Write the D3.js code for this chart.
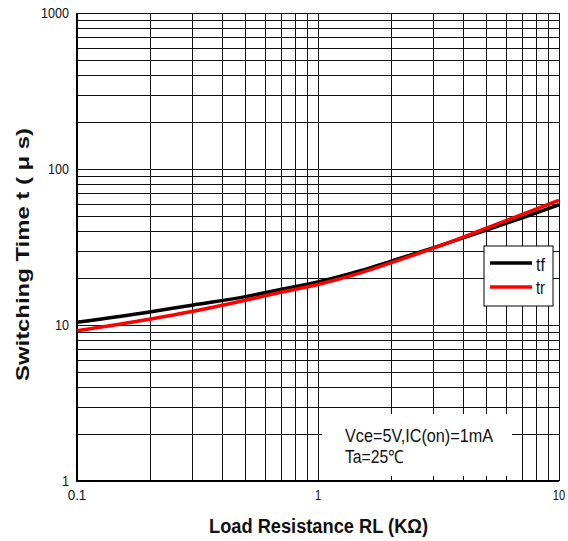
<!DOCTYPE html>
<html>
<head>
<meta charset="utf-8">
<script src="https://cdn.jsdelivr.net/npm/d3@7"></script>
<style>
  body { margin: 0; background: #fff; }
  text { font-family: "Liberation Sans", Arial, sans-serif; fill: #111; }
</style>
</head>
<body>
<svg id="chart"></svg>
<script>
var width = 568;
var height = 541;
var margin = { top: 13, right: 10, bottom: 60, left: 77 };

// load resistance (K ohm)
var loadR = [0.1, 0.2, 0.3, 0.5, 0.7, 1, 1.5, 2, 3, 5, 7, 10];
// switching times (us)
var tfValues = [10.4, 12.1, 13.4, 15.2, 16.9, 18.9, 22.3, 25.6, 31.2, 40.6, 48.5, 59];
var trValues = [9.2, 10.9, 12.2, 14.4, 16.2, 18.2, 21.6, 25.0, 31.0, 41.8, 51, 63];
var xTickLabels = ["0.1", "1", "10"];
var yTickLabels = ["1", "10", "100", "1000"];

var svg = d3.select("#chart").attr("width", width).attr("height", height);

var x = d3.scaleLog().domain([0.1, 10]).range([margin.left, 559]);
var y = d3.scaleLog().domain([1, 1000]).range([481, margin.top]);

// grid values 1..9 per decade
function decadeTicks(lo, hi) {
  var out = [];
  for (var p = lo; p < hi; p *= 10) {
    for (var k = 1; k <= 9; k++) out.push(p * k);
  }
  out.push(hi);
  return out;
}
var xGrid = decadeTicks(0.1, 10);
var yGrid = decadeTicks(1, 1000);

var grid = svg.append("g").attr("shape-rendering", "crispEdges");
grid.selectAll(".vg")
  .data(xGrid)
  .enter()
  .append("line")
  .attr("x1", function (d) { return Math.round(x(d)) + 0.5; })
  .attr("x2", function (d) { return Math.round(x(d)) + 0.5; })
  .attr("y1", y(1000))
  .attr("y2", y(1))
  .attr("stroke", "#111")
  .attr("stroke-width", 1);
grid.selectAll(".hg")
  .data(yGrid)
  .enter()
  .append("line")
  .attr("y1", function (d) { return Math.round(y(d)) + 0.5; })
  .attr("y2", function (d) { return Math.round(y(d)) + 0.5; })
  .attr("x1", x(0.1))
  .attr("x2", x(10))
  .attr("stroke", "#111")
  .attr("stroke-width", 1);

// frame: left and bottom thicker
svg.append("line").attr("x1", x(0.1)).attr("x2", x(0.1)).attr("y1", y(1000)).attr("y2", y(1) + 1)
  .attr("stroke", "#000").attr("stroke-width", 2);
svg.append("line").attr("x1", x(0.1)).attr("x2", x(10)).attr("y1", y(1)).attr("y2", y(1))
  .attr("stroke", "#000").attr("stroke-width", 2);

// tick labels
svg.selectAll(".xl")
  .data(xTickLabels)
  .enter()
  .append("text")
  .attr("x", function (d) { return x(+d); })
  .attr("y", 500)
  .attr("text-anchor", "middle")
  .style("font-size", "14px")
  .attr("textLength", function (d) { return d.length * 6.2; })
  .attr("lengthAdjust", "spacingAndGlyphs")
  .text(function (d) { return d; });
svg.selectAll(".yl")
  .data(yTickLabels)
  .enter()
  .append("text")
  .attr("x", 69)
  .attr("y", function (d) { return y(+d) + 5; })
  .attr("text-anchor", "end")
  .style("font-size", "14px")
  .attr("textLength", function (d) { return d.length * 7; })
  .attr("lengthAdjust", "spacingAndGlyphs")
  .text(function (d) { return d; });

// annotation box (white, covers grid)
svg.append("rect")
  .attr("x", 322).attr("y", 414).attr("width", 190).attr("height", 62)
  .attr("fill", "#fff");
svg.append("text").attr("x", 345).attr("y", 442).style("font-size", "18px")
  .attr("textLength", 148).attr("lengthAdjust", "spacingAndGlyphs")
  .text("Vce=5V,IC(on)=1mA");
svg.append("text").attr("x", 345).attr("y", 463).style("font-size", "18px")
  .attr("textLength", 59).attr("lengthAdjust", "spacingAndGlyphs")
  .text("Ta=25℃");

// curves
var line = d3.line()
  .x(function (d) { return x(d[0]); })
  .y(function (d) { return y(d[1]); })
  .curve(d3.curveMonotoneX);

svg.append("path")
  .datum(d3.zip(loadR, tfValues))
  .attr("d", line)
  .attr("fill", "none")
  .attr("stroke", "#000")
  .attr("stroke-width", 3.5);
svg.append("path")
  .datum(d3.zip(loadR, trValues))
  .attr("d", line)
  .attr("fill", "none")
  .attr("stroke", "#ff0000")
  .attr("stroke-width", 3.5);

// legend
var lg = svg.append("g").attr("transform", "translate(484,246)");
lg.append("rect").attr("width", 69).attr("height", 60)
  .attr("fill", "#fff").attr("stroke", "#000").attr("stroke-width", 1);
lg.append("line").attr("x1", 6).attr("x2", 48).attr("y1", 17).attr("y2", 17)
  .attr("stroke", "#000").attr("stroke-width", 3.5);
lg.append("line").attr("x1", 6).attr("x2", 48).attr("y1", 41).attr("y2", 41)
  .attr("stroke", "#ff0000").attr("stroke-width", 3.5);
lg.append("text").attr("x", 52).attr("y", 25).style("font-size", "19px")
  .attr("textLength", 9).attr("lengthAdjust", "spacingAndGlyphs").text("tf");
lg.append("text").attr("x", 52).attr("y", 48).style("font-size", "19px")
  .attr("textLength", 9).attr("lengthAdjust", "spacingAndGlyphs").text("tr");

// axis titles
svg.append("text")
  .attr("x", 209).attr("y", 533)
  .style("font-size", "20px").style("font-weight", "bold")
  .attr("textLength", 219).attr("lengthAdjust", "spacingAndGlyphs")
  .text("Load Resistance RL (KΩ)");
svg.append("text")
  .attr("transform", "translate(29,381)rotate(-90)")
  .style("font-size", "19px").style("font-weight", "bold")
  .attr("textLength", 253).attr("lengthAdjust", "spacingAndGlyphs")
  .text("Switching Time t ( μ s)");
</script>
</body>
</html>
